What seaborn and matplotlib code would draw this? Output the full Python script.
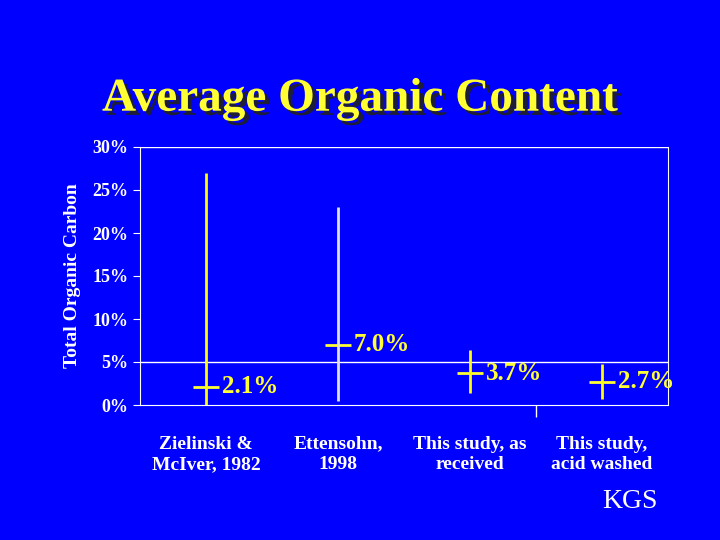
import matplotlib
matplotlib.use("Agg")
import matplotlib.pyplot as plt
import matplotlib.patheffects as pe
import seaborn as sns
import pandas as pd

categories = ["Zielinski &\nMcIver, 1982", "Ettensohn,\n1998",
              "This study, as\nreceived", "This study,\nacid washed"]
means = [2.1, 7.0, 3.7, 2.7]
lows = [0.0, 0.5, 1.4, 0.7]
highs = [27.0, 23.0, 6.4, 4.8]
labels = ["2.1%", "7.0%", "3.7%", "2.7%"]
line_colors = ["#FFFF00", "#E0E0E0", "#FFFF00", "#FFFF00"]

BLUE = "#0000FF"
YEL = "#FFFF33"

sns.set_style("white")
plt.rcParams["font.family"] = ["Liberation Serif", "DejaVu Serif"]
plt.rcParams["font.weight"] = "bold"

fig = plt.figure(figsize=(7.2, 5.4), dpi=100, facecolor=BLUE)
ax = fig.add_axes([140/720, 1-405/540, 528/720, 258/540])
ax.set_facecolor(BLUE)

df = pd.DataFrame({"cat": categories, "mean": means})
sns.scatterplot(data=df, x="cat", y="mean", ax=ax, marker="_", s=330,
                color=YEL, linewidth=2, zorder=3, legend=False)
for i in range(len(categories)):
    ax.vlines(i, lows[i], highs[i], color=line_colors[i], lw=2, zorder=3)
    ax.text(i + 0.12, means[i], labels[i], color=YEL, fontsize=18,
            fontweight="bold", va="center", ha="left")

ax.set_xlim(-0.5, 3.5)
ax.set_ylim(0, 30)
ax.set_yticks(range(0, 31, 5))
ax.set_yticklabels([f"{v}%" for v in range(0, 31, 5)])
ax.axhline(5, color="white", lw=1, zorder=1)
ax.axhline(30, color="white", lw=1, zorder=1)
ax.set_xticks(range(4))
ax.set_xticklabels(categories, linespacing=1.3)
ax.tick_params(axis="x", colors="white", labelsize=14, length=0, pad=22)
ax.tick_params(axis="y", colors="white", labelsize=13, length=5, direction="out", left=True)
for lab in ax.get_xticklabels() + ax.get_yticklabels():
    lab.set_fontweight("bold")
ax.vlines(2.5, 0, -0.045, transform=ax.get_xaxis_transform(), color="white", lw=1, clip_on=False)
for s in ["left", "bottom", "right"]:
    ax.spines[s].set_color("white")
ax.spines["top"].set_visible(False)
ax.set_xlabel("")
ax.set_ylabel("Total Organic Carbon", color="white", fontsize=14, fontweight="bold", labelpad=8)

fig.text(0.5, 0.795, "Average Organic Content", color=YEL, fontsize=34,
         fontweight="bold", ha="center",
         path_effects=[pe.withSimplePatchShadow(offset=(3, -3), shadow_rgbFace="#222222", alpha=0.9)])
fig.text(0.875, 0.06, "KGS", color="white", fontsize=20, ha="center", fontweight="normal")

fig.savefig("out.png", dpi=100, facecolor=BLUE)
